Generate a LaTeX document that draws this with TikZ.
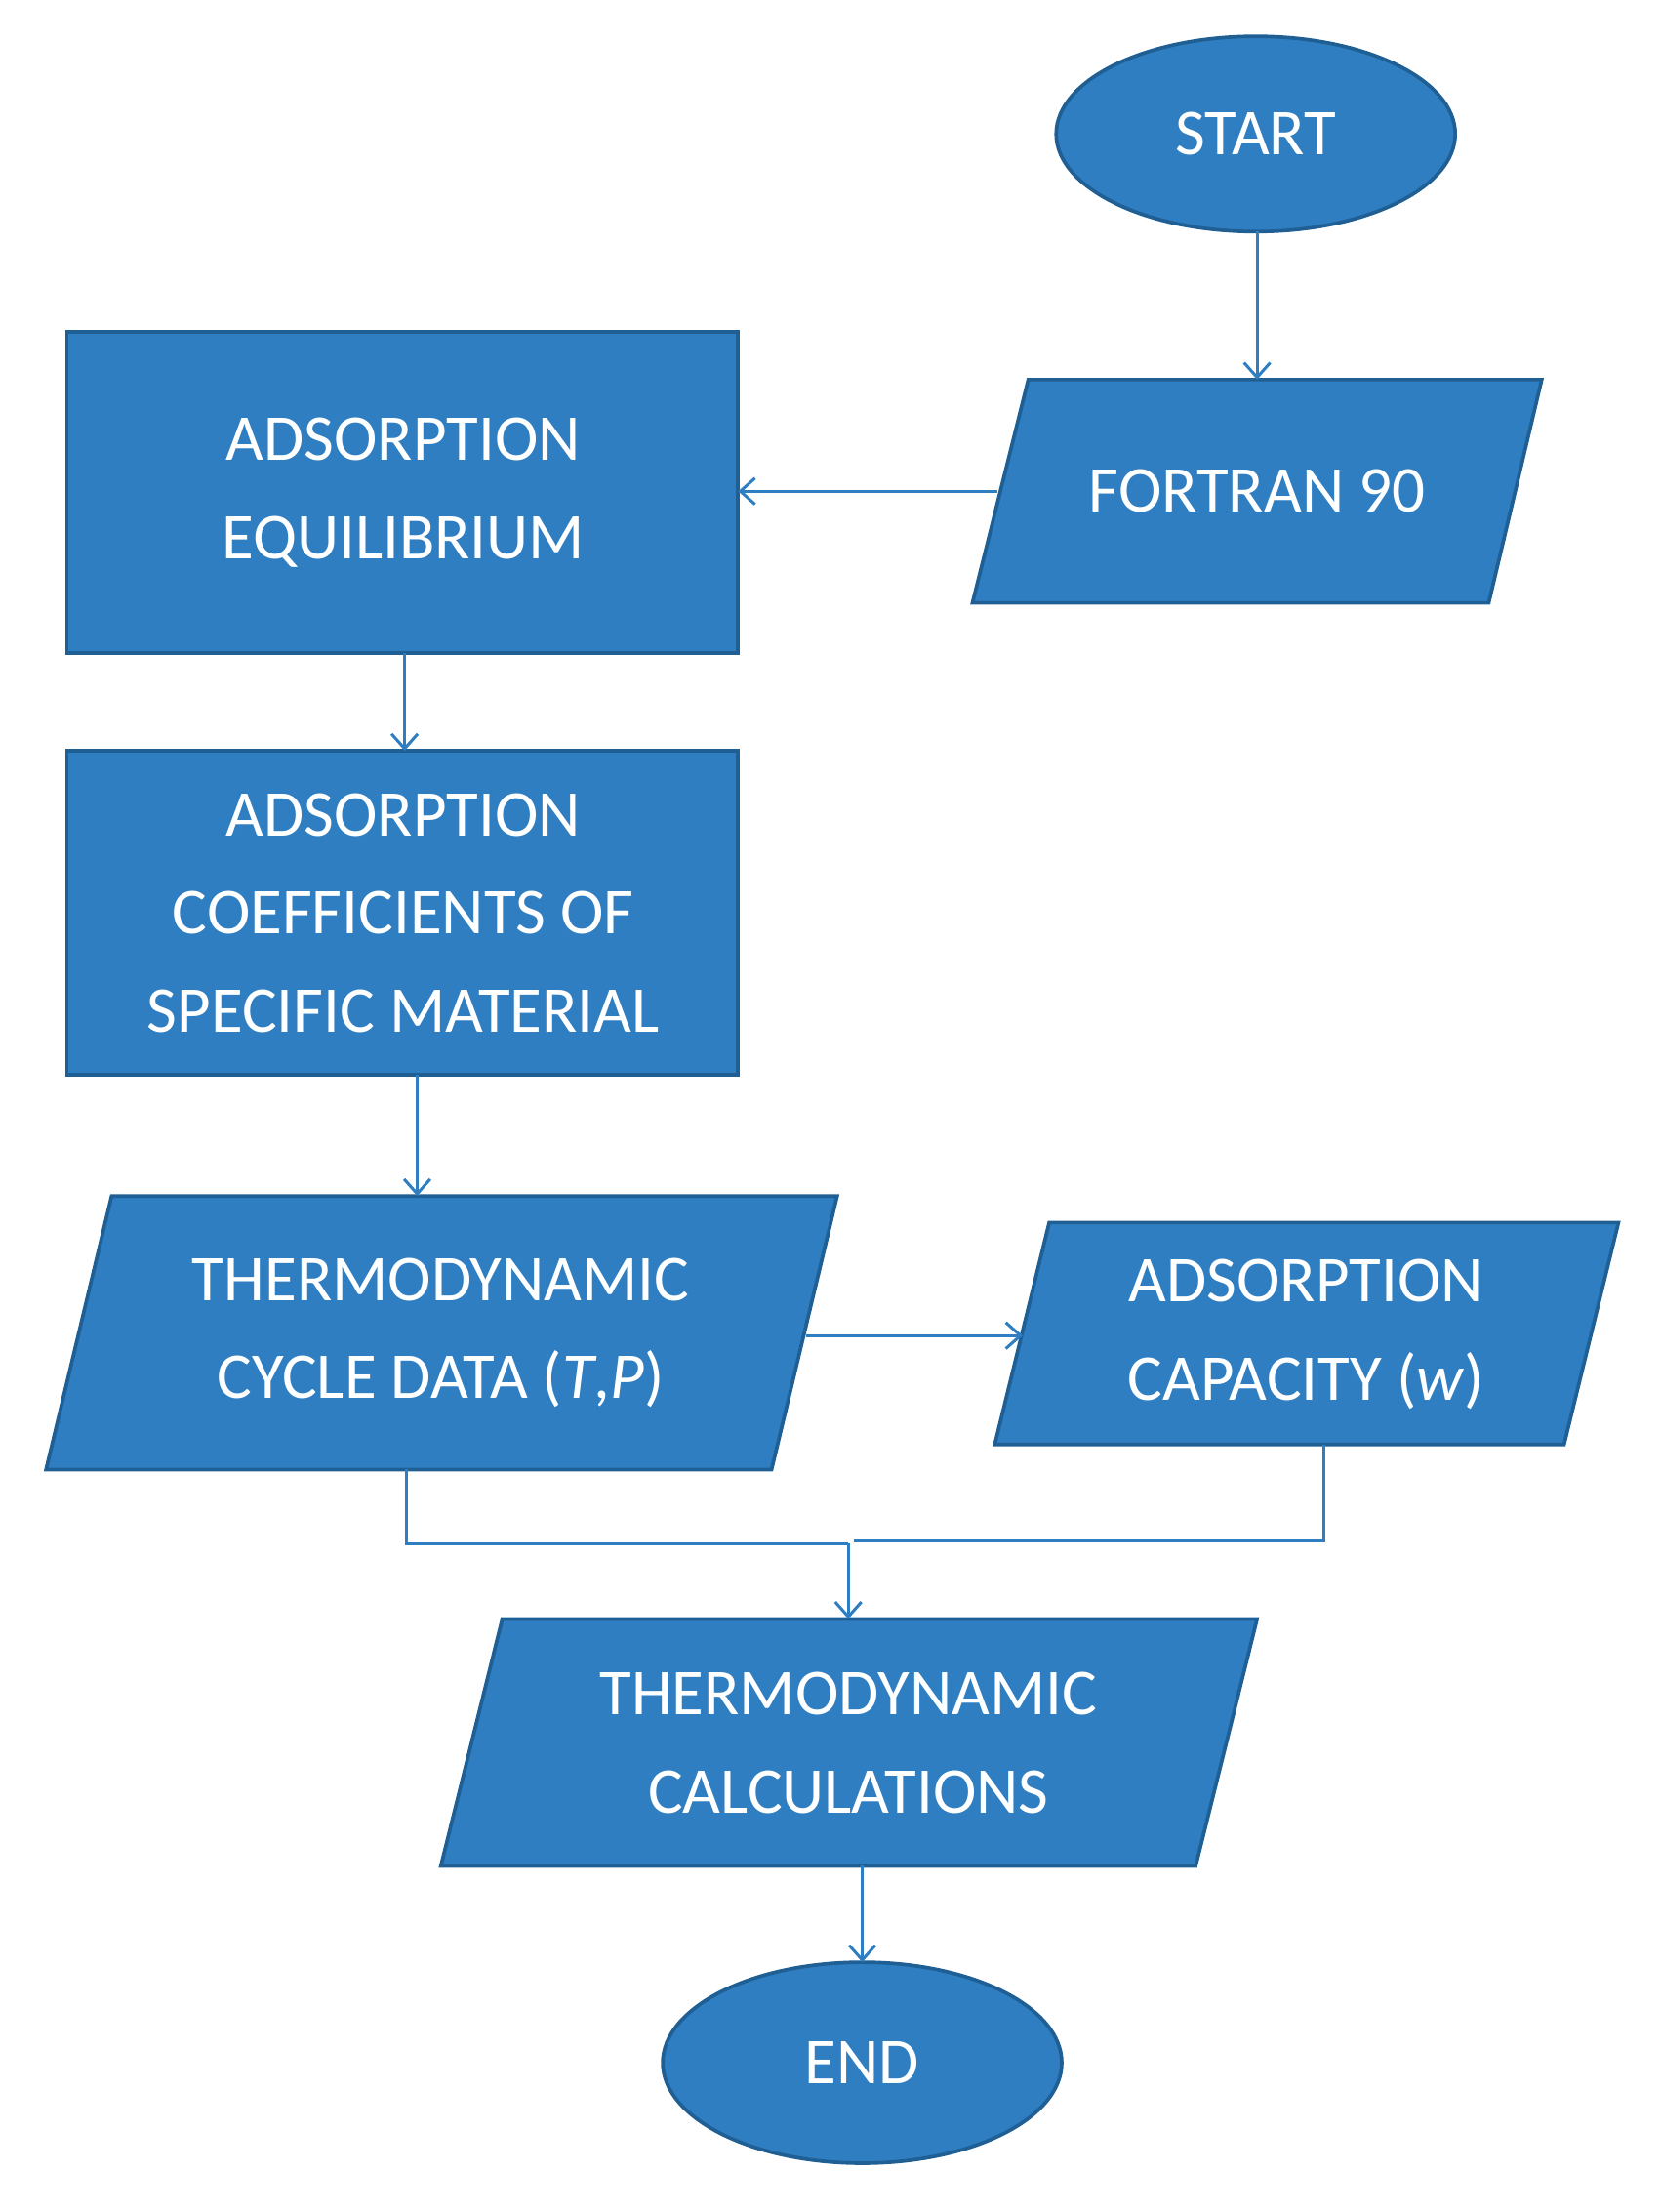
\documentclass[tikz,border=0pt]{standalone}
\usepackage{fontspec}
\setmainfont{Carlito}
\usetikzlibrary{arrows.meta}
\definecolor{fillb}{HTML}{2E7EC1}
\definecolor{edgeb}{HTML}{1F5F93}
\begin{document}
\begin{tikzpicture}[x=0.3mm,y=-0.3mm,
  shp/.style={fill=fillb,draw=edgeb,line width=2.2pt,line join=miter},
  txt/.style={text=white,align=center,font=\fontsize{40}{60}\selectfont},
  arr/.style={draw=fillb,line width=1.8pt,-{Straight Barb[length=9pt,width=16pt,line width=1.8pt]}},
  ln/.style={draw=fillb,line width=1.8pt}]
\useasboundingbox (0,0) rectangle (1190,1585);
% shapes
\path[shp] (900,96) ellipse [x radius=143,y radius=70];
\node[txt] (start) at (900,96) {START};
\path[shp] (737,272) -- (1105,272) -- (1067,432) -- (697,432) -- cycle;
\node[txt] (fortran) at (901,352) {FORTRAN 90};
\path[shp] (48,238) rectangle (529,468);
\node[txt] (eq) at (289,353) {ADSORPTION\\EQUILIBRIUM};
\path[shp] (48,538) rectangle (529,770);
\node[txt] (coef) at (289,654) {ADSORPTION\\COEFFICIENTS OF\\SPECIFIC MATERIAL};
\path[shp] (80,857) -- (600,857) -- (553,1053) -- (33,1053) -- cycle;
\node[txt] (cyc) at (316,955) {THERMODYNAMIC\\CYCLE DATA (\textit{T},\textit{P})};
\path[shp] (752,876) -- (1160,876) -- (1121,1035) -- (713,1035) -- cycle;
\node[txt] (cap) at (936,956) {ADSORPTION\\CAPACITY (\textit{w})};
\path[shp] (360,1160) -- (901,1160) -- (857,1337) -- (316,1337) -- cycle;
\node[txt] (calc) at (608,1249) {THERMODYNAMIC\\CALCULATIONS};
\path[shp] (618,1478) ellipse [x radius=143,y radius=72];
\node[txt] (end) at (618,1478) {END};
% connector anchor coordinates
\coordinate (s1) at (901,166); \coordinate (s2) at (901,272);
\coordinate (f1) at (715,352); \coordinate (f2) at (529,352);
\coordinate (e1) at (290,468); \coordinate (e2) at (290,538);
\coordinate (c1) at (299,770); \coordinate (c2) at (299,857);
\coordinate (t1) at (578,957); \coordinate (t2) at (733,957);
\coordinate (t3) at (291,1053); \coordinate (t4) at (291,1106); \coordinate (t5) at (608,1106); \coordinate (t6) at (608,1160);
\coordinate (a1) at (949,1035); \coordinate (a2) at (949,1104); \coordinate (a3) at (612,1104);
\coordinate (k1) at (618,1337); \coordinate (k2) at (618,1406);
\draw[arr] (s1) -- (s2);
\draw[arr] (f1) -- (f2);
\draw[arr] (e1) -- (e2);
\draw[arr] (c1) -- (c2);
\draw[arr] (t1) -- (t2);
\draw[ln] (t3) -- (t4) -- (t5);
\draw[arr] (t5) -- (t6);
\draw[ln] (a1) -- (a2) -- (a3);
\draw[arr] (k1) -- (k2);
\end{tikzpicture}
\end{document}
